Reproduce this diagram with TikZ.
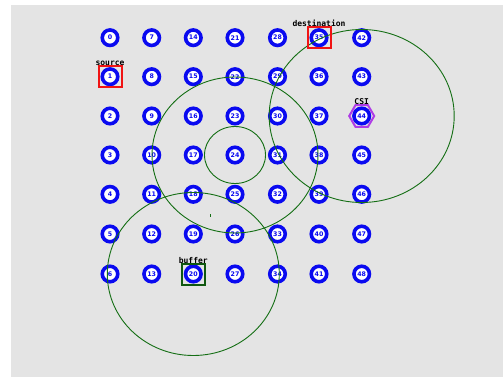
\documentclass[tikz,border=0pt]{standalone}
\usepackage{fontspec}
\usetikzlibrary{shapes.geometric}
\newfontfamily\lblfont{DejaVu Sans Mono}
\newfontfamily\numfont{DejaVu Sans}
\definecolor{bg}{RGB}{228,228,228}
\definecolor{nodeblue}{RGB}{10,10,240}
\definecolor{rangegreen}{RGB}{20,110,20}
\definecolor{csiviolet}{RGB}{175,60,230}
\definecolor{boxred}{RGB}{240,20,20}
\tikzset{
  gridnode/.style={circle, draw=nodeblue, line width=3.6pt, fill=white,
    inner sep=0pt, minimum size=15.5pt, text=nodeblue,
    font=\numfont\fontsize{6.3}{6.3}\selectfont\bfseries},
  redbox/.style={rectangle, draw=boxred, line width=2pt, minimum width=23pt, minimum height=21pt, inner sep=0pt},
  greenbox/.style={rectangle, draw=rangegreen!80!black, line width=2pt, minimum width=23pt, minimum height=21pt, inner sep=0pt},
  csihex/.style={regular polygon, regular polygon sides=6, shape border rotate=0, draw=csiviolet, line width=2pt, minimum size=25pt, inner sep=0pt},
  tag/.style={font=\lblfont\fontsize{8}{8}\selectfont\bfseries, text=black, inner sep=0pt},
  rangering/.style={draw=rangegreen, line width=0.9pt}
}
\begin{document}
\begin{tikzpicture}[x=1pt,y=-1pt]
\useasboundingbox (0,0) rectangle (503,377);
\fill[white] (0,0) rectangle (503,377);
\fill[bg] (11,5) rectangle (503,377);
% grid nodes
\foreach \c/\x in {0/110,1/151.7,2/193.3,3/235,4/277.5,5/319,6/361.7}{
  \foreach \r/\y in {0/37.7,1/76.7,2/116,3/155,4/194.3,5/234,6/274}{
    \pgfmathtruncatemacro{\id}{7*\c+\r}
    \node[gridnode] (n\id) at (\x,\y) {\id};
  }
}
% range ellipses
\draw[rangering] (n24) ellipse [x radius=30.5, y radius=28.5];
\draw[rangering] (n24) ellipse [x radius=83, y radius=78];
\draw[rangering] (n44) ellipse [x radius=92.5, y radius=86.5];
\draw[rangering] (n20) ellipse [x radius=86, y radius=81.5];
% markers
\node[redbox] (srcbox) at (n1) {};
\node[redbox] (dstbox) at (n35) {};
\node[greenbox] (bufbox) at (n20) {};
\node[csihex] (csibox) at (n44) {};
% labels
\node[tag, anchor=south] (srclbl) at ([yshift=-1pt]srcbox.north) {source};
\node[tag, anchor=south] (dstlbl) at ([yshift=-1pt]dstbox.north) {destination};
\node[tag, anchor=south] (bufllbl) at ([yshift=-1pt]bufbox.north) {buffer};
\node[tag, anchor=south] (csilbl) at ([yshift=-1pt]csibox.north) {CSI};
% small mark
\fill[rangegreen] (209.5,213.5) rectangle (211,217);
\end{tikzpicture}
\end{document}
